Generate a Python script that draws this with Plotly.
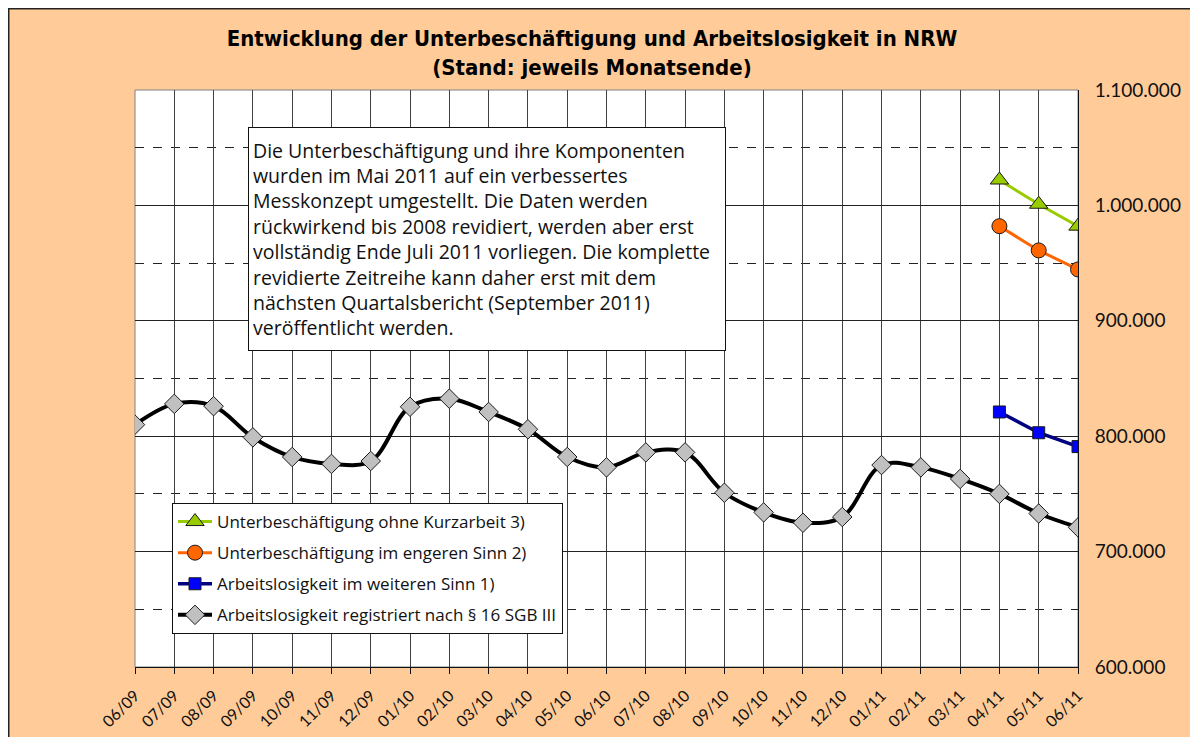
import plotly.graph_objects as go

months = ["06/09", "07/09", "08/09", "09/09", "10/09", "11/09", "12/09",
          "01/10", "02/10", "03/10", "04/10", "05/10", "06/10", "07/10",
          "08/10", "09/10", "10/10", "11/10", "12/10", "01/11", "02/11",
          "03/11", "04/11", "05/11", "06/11"]

alo_registriert = [810000, 828000, 826000, 799000, 782000, 776000, 778500,
                   825500, 832500, 821000, 806000, 782000, 773000, 786000,
                   786000, 751000, 734000, 725000, 730000, 775000, 773000,
                   763000, 750000, 733000, 721000]

recent_months = ["04/11", "05/11", "06/11"]
alo_weiter = [821000, 803000, 791000]
ub_enger = [982000, 961000, 944500]
ub_ohne_kurz = [1022000, 1001000, 982000]

y_ticks = [600000, 700000, 800000, 900000, 1000000, 1100000]

note_lines = [
    "Die Unterbeschäftigung und ihre Komponenten",
    "wurden im Mai 2011 auf ein verbessertes",
    "Messkonzept umgestellt. Die Daten werden",
    "rückwirkend bis 2008 revidiert, werden aber erst",
    "vollständig Ende Juli 2011 vorliegen. Die komplette",
    "revidierte Zeitreihe kann daher erst mit dem",
    "nächsten Quartalsbericht (September 2011)",
    "veröffentlicht werden.",
]

BODY_FONT = "Open Sans"
TICK_FONT = "Lato"

# page body has an 8px margin; plot area in page px: x 135..1078, y 90..667
L, T, PW, PH = 127, 82, 943, 577
W, H = 1198, 737

fig = go.Figure()

fig.add_trace(go.Scatter(
    x=recent_months, y=ub_ohne_kurz, mode="lines+markers",
    name="Unterbeschäftigung ohne Kurzarbeit 3)", legendgroup="a",
    line=dict(color="#99CC00", width=3),
    marker=dict(symbol="triangle-up", size=16, color="#99CC00",
                line=dict(color="#1a1a1a", width=1)),
))
fig.add_trace(go.Scatter(
    x=recent_months, y=ub_enger, mode="lines+markers",
    name="Unterbeschäftigung im engeren Sinn 2)", legendgroup="b",
    line=dict(color="#FF6600", width=3),
    marker=dict(symbol="circle", size=15, color="#FF6600",
                line=dict(color="#1a1a1a", width=1)),
))
fig.add_trace(go.Scatter(
    x=recent_months, y=alo_weiter, mode="lines+markers",
    name="Arbeitslosigkeit im weiteren Sinn 1)", legendgroup="c",
    line=dict(color="#000080", width=3.5),
    marker=dict(symbol="square", size=12, color="#0000FF",
                line=dict(color="#1a1a1a", width=1)),
))
fig.add_trace(go.Scatter(
    x=months, y=alo_registriert, mode="lines+markers",
    name="Arbeitslosigkeit registriert nach § 16 SGB III", legendgroup="d",
    line=dict(color="#000000", width=4, shape="spline", smoothing=1),
    marker=dict(symbol="diamond", size=15, color="#C0C0C0",
                line=dict(color="#1a1a1a", width=1)),
))

# plot-area frame (gray) and outer chart border
fig.add_shape(type="rect", xref="paper", yref="paper", x0=0, x1=1, y0=0, y1=1,
              line=dict(color="#808080", width=1), layer="below")
fig.add_shape(type="rect", xref="paper", yref="paper",
              x0=-(L - 0.5) / PW, x1=1.3, y0=-0.3, y1=1 + (T - 0.5) / PH,
              line=dict(color="#222222", width=2))

fig.add_annotation(
    xref="paper", yref="paper", x=(248 - 135) / PW, y=(667 - 127) / PH,
    xanchor="left", yanchor="top",
    text="<br>".join(note_lines), align="left", showarrow=False,
    font=dict(family=BODY_FONT, size=19.5, color="#111111"),
    bgcolor="white", bordercolor="#111111", borderwidth=1, borderpad=4,
    width=468, height=214, valign="middle",
)

fig.update_layout(
    width=W, height=H,
    margin=dict(l=L, r=W - L - PW, t=T, b=H - T - PH, autoexpand=False),
    paper_bgcolor="#FFCC99", plot_bgcolor="white",
    separators=",.",
    title=dict(
        text="<b>Entwicklung der Unterbeschäftigung und Arbeitslosigkeit in NRW<br>(Stand: jeweils Monatsende)</b>",
        x=(592 - 8) / W, xanchor="center", y=0.948, yanchor="top",
        xref="container", yref="container",
        font=dict(family="DejaVu Sans Condensed, Liberation Sans Narrow, Arial Narrow, sans-serif",
                  size=22, color="#000000"),
    ),
    showlegend=True,
    legend=dict(
        x=(172 - 135) / PW, y=(667 - 503) / PH, xanchor="left", yanchor="top",
        bgcolor="white", bordercolor="#111111", borderwidth=1,
        font=dict(family=BODY_FONT, size=17, color="#111111"),
        tracegroupgap=6, traceorder="grouped", itemwidth=34,
    ),
    xaxis=dict(
        type="category", categoryorder="array", categoryarray=months,
        range=[0, len(months) - 1], automargin=False,
        showgrid=True, gridcolor="#404040", gridwidth=1,
        showline=True, linecolor="#111111", linewidth=1,
        ticks="outside", ticklen=6, tickcolor="#111111",
        ticklabelstandoff=6,
        tickangle=-45, tickfont=dict(family=TICK_FONT, size=16, color="#111111"),
        zeroline=False,
    ),
    yaxis=dict(
        side="right", range=[600000, 1100000], automargin=False,
        tickvals=y_ticks, tickformat=",d",
        showgrid=True, gridcolor="#222222", gridwidth=1,
        minor=dict(dtick=50000, showgrid=True, griddash="dash",
                   gridcolor="#222222", gridwidth=1),
        showline=True, linecolor="#111111", linewidth=1,
        ticks="", ticklabelstandoff=12,
        tickfont=dict(family=TICK_FONT, size=19, color="#111111"),
        zeroline=False,
    ),
)

fig.write_html("out.html")
